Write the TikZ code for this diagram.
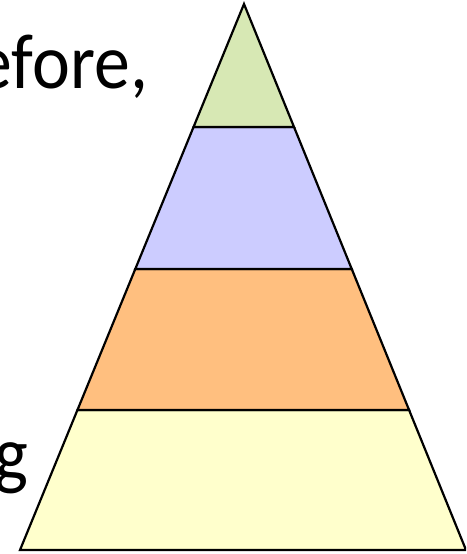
\documentclass[tikz,border=0pt]{standalone}
\usepackage{fontspec}
\setmainfont{Carlito}
\usetikzlibrary{calc}
\definecolor{lvgreen}{HTML}{D7E8B4}
\definecolor{lvpurple}{HTML}{CCCCFF}
\definecolor{lvorange}{HTML}{FFBF7F}
\definecolor{lvyellow}{HTML}{FFFFCC}
\tikzset{
  layer/.style={draw=black, line width=2.2pt, line join=miter},
  bigtext/.style={font=\fontsize{78}{92}\selectfont, inner sep=0pt, anchor=base east}
}
\begin{document}
\begin{tikzpicture}[x=1pt,y=-1pt]
\useasboundingbox (0,0) rectangle (466,554);
\clip (0,0) rectangle (466,554);
\coordinate (apex) at (244,4);
\coordinate (bl) at (20,550);
\coordinate (br) at (466,550);
\coordinate (l1) at ($(apex)!0.2253!(bl)$);
\coordinate (r1) at ($(apex)!0.2253!(br)$);
\coordinate (l2) at ($(apex)!0.4853!(bl)$);
\coordinate (r2) at ($(apex)!0.4853!(br)$);
\coordinate (l3) at ($(apex)!0.7436!(bl)$);
\coordinate (r3) at ($(apex)!0.7436!(br)$);
\draw[layer, fill=lvyellow] (l3) -- (r3) -- (br) -- (bl) -- cycle;
\draw[layer, fill=lvorange] (l2) -- (r2) -- (r3) -- (l3) -- cycle;
\draw[layer, fill=lvpurple] (l1) -- (r1) -- (r2) -- (l2) -- cycle;
\draw[layer, fill=lvgreen] (apex) -- (r1) -- (l1) -- cycle;
\node[bigtext] (t1) at (148,88) {\scalebox{0.92}[1]{efore,}};
\node[bigtext] (t2) at (28,480) {\scalebox{0.92}[1]{g}};
\end{tikzpicture}
\end{document}
